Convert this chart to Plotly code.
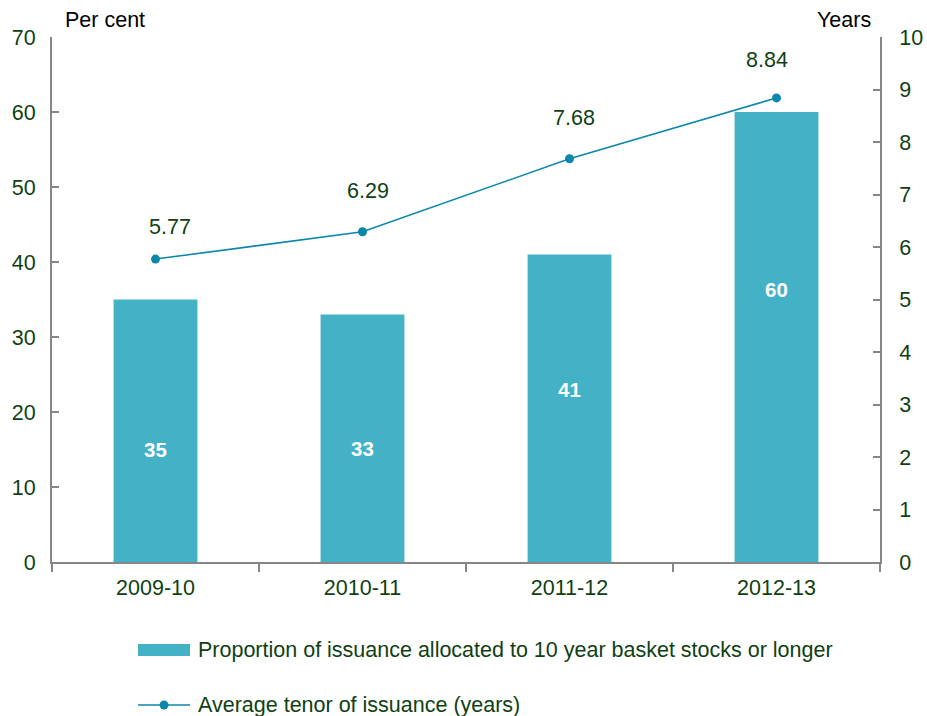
import plotly.graph_objects as go

# Issuance data by financial year
years = ["2009-10", "2010-11", "2011-12", "2012-13"]
long_share = [35, 33, 41, 60]          # per cent, left axis
avg_tenor = [5.77, 6.29, 7.68, 8.84]   # years, right axis

left_ticks = list(range(0, 71, 10))
right_ticks = list(range(0, 11, 1))

# Label placement (layout only)
bar_label_frac = [0.43, 0.46, 0.56, 0.605]          # height within each bar
tenor_label_shift = [(14, 32), (5, 41), (4, 41), (-10, 38)]  # px offsets

BAR_COLOR = "#43b1c6"
LINE_COLOR = "#0b87ab"
TEXT_COLOR = "#0f3f12"
AXIS_COLOR = "#868686"
FONT = "Liberation Sans, Arial, sans-serif"
FS = 21.5

fig = go.Figure()

fig.add_trace(go.Bar(
    x=years, y=long_share, width=0.405,
    marker=dict(color=BAR_COLOR, line=dict(width=0)),
    showlegend=False, yaxis="y",
))

fig.add_trace(go.Scatter(
    x=years, y=avg_tenor, mode="lines+markers",
    line=dict(color=LINE_COLOR, width=1.6),
    marker=dict(color=LINE_COLOR, size=9),
    showlegend=False, yaxis="y2",
))

# Value labels inside the bars
for x, v, f in zip(years, long_share, bar_label_frac):
    fig.add_annotation(x=x, y=v * f, xref="x", yref="y", text=f"<b>{v}</b>",
                       showarrow=False,
                       font=dict(size=FS - 1, color="white", family=FONT))

# Value labels above the tenor points
for x, v, (dx, dy) in zip(years, avg_tenor, tenor_label_shift):
    fig.add_annotation(x=x, y=v, xref="x", yref="y2", text=f"{v:.2f}",
                       showarrow=False, xshift=dx, yshift=dy,
                       font=dict(size=FS, color=TEXT_COLOR, family=FONT))

# Axis unit captions
fig.add_annotation(x=0.013, y=1.032, xref="paper", yref="paper", text="Per cent",
                   showarrow=False, xanchor="left", yanchor="middle",
                   font=dict(size=FS, color="black", family=FONT))
fig.add_annotation(x=0.9915, y=1.032, xref="paper", yref="paper", text="Years",
                   showarrow=False, xanchor="right", yanchor="middle",
                   font=dict(size=FS, color="black", family=FONT))

# Legend drawn below the chart
fig.add_shape(type="rect", xref="paper", yref="paper",
              x0=0.1039, x1=0.1667, y0=-0.1790, y1=-0.1562,
              fillcolor=BAR_COLOR, line=dict(width=0))
fig.add_shape(type="line", xref="paper", yref="paper",
              x0=0.1039, x1=0.1667, y0=-0.2724, y1=-0.2724,
              line=dict(color=LINE_COLOR, width=1.6))
fig.add_shape(type="circle", xref="paper", yref="paper",
              x0=0.1353 - 0.0054, x1=0.1353 + 0.0054,
              y0=-0.2724 - 0.0086, y1=-0.2724 + 0.0086,
              fillcolor=LINE_COLOR, line=dict(width=0))
fig.add_annotation(x=0.1739, y=-0.1676, xref="paper", yref="paper",
                   text="Proportion of issuance allocated to 10 year basket stocks or longer",
                   showarrow=False, xanchor="left", yanchor="middle",
                   font=dict(size=FS, color=TEXT_COLOR, family=FONT))
fig.add_annotation(x=0.1739, y=-0.2724, xref="paper", yref="paper",
                   text="Average tenor of issuance (years)",
                   showarrow=False, xanchor="left", yanchor="middle",
                   font=dict(size=FS, color=TEXT_COLOR, family=FONT))

fig.update_layout(
    width=927, height=716,
    margin=dict(l=52, r=47, t=37, b=154),
    paper_bgcolor="white", plot_bgcolor="white",
    font=dict(family=FONT, color=TEXT_COLOR, size=FS),
    xaxis=dict(
        type="category", automargin=False,
        showgrid=False, showline=True, linecolor=AXIS_COLOR, linewidth=2,
        ticks="outside", tickson="boundaries", ticklen=8, tickcolor=AXIS_COLOR,
        tickwidth=2, tickfont=dict(size=FS, color=TEXT_COLOR),
        range=[-0.5, 3.5], ticklabelstandoff=5,
    ),
    yaxis=dict(
        range=[0, 70], tickvals=left_ticks, showgrid=False, zeroline=False,
        automargin=False,
        showline=True, linecolor=AXIS_COLOR, linewidth=2,
        ticks="inside", ticklen=7, tickcolor=AXIS_COLOR, tickwidth=2,
        tickfont=dict(size=FS, color=TEXT_COLOR), ticklabelstandoff=10,
    ),
    yaxis2=dict(
        range=[0, 10], tickvals=right_ticks, overlaying="y", side="right",
        showgrid=False, zeroline=False, automargin=False,
        showline=True, linecolor=AXIS_COLOR, linewidth=2,
        ticks="inside", ticklen=7, tickcolor=AXIS_COLOR, tickwidth=2,
        tickfont=dict(size=FS, color=TEXT_COLOR), ticklabelstandoff=13,
    ),
)

fig.write_html("out.html")
